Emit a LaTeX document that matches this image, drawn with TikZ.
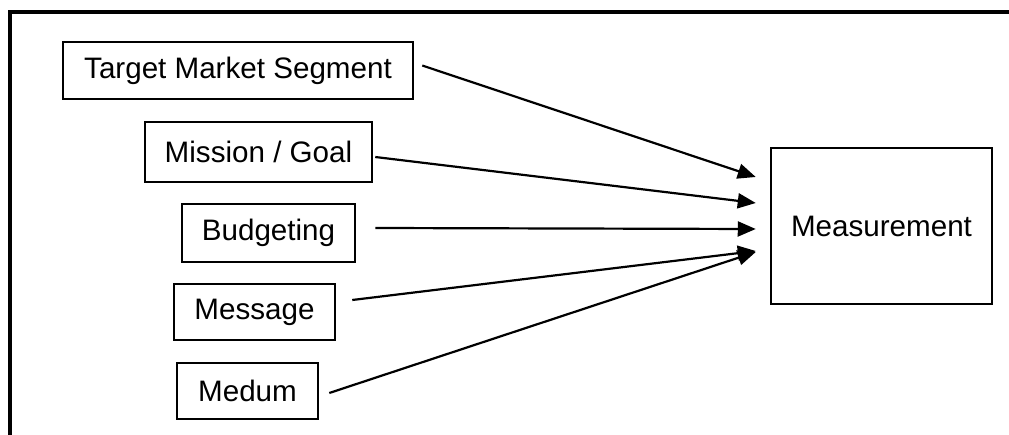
\documentclass[tikz,border=0pt]{standalone}
\usepackage{fontspec}
\setmainfont{Liberation Sans}
\usetikzlibrary{arrows.meta}
\begin{document}
\begin{tikzpicture}[x=1pt,y=-1pt,
  box/.style={draw,line width=2.5pt,inner sep=0pt,font=\fontsize{29.6}{34}\selectfont},
  arr/.style={line width=2.2pt,-{Triangle[length=18pt,width=15pt]}}]
\useasboundingbox (0,0) rectangle (1009,435);
% outer frame (only top and left visible)
\draw[line width=4pt] (10,440) -- (10,12) -- (1015,12);
% nodes
\node[box,minimum width=350pt,minimum height=57pt] (tms) at (238,70.5) {Target Market Segment};
\node[box,minimum width=227pt,minimum height=60pt] (mis) at (258.5,152) {Mission / Goal};
\node[box,minimum width=173pt,minimum height=58pt] (bud) at (268.5,233) {Budgeting};
\node[box,minimum width=161pt,minimum height=56pt] (msg) at (254.5,312) {Message};
\node[box,minimum width=141pt,minimum height=56pt] (med) at (247.5,391) {Medum};
\node[box,minimum width=221pt,minimum height=156pt] (mea) at (881.5,226) {Measurement};
% connector ends
\coordinate (s1) at ([shift={(8,-5)}]tms.east);
\coordinate (s2) at ([shift={(2,5)}]mis.east);
\coordinate (s3) at ([shift={(19,-5)}]bud.east);
\coordinate (s4) at ([shift={(16,-12)}]msg.east);
\coordinate (s5) at ([shift={(10,2)}]med.east);
\coordinate (e1) at ([shift={(-14,-49)}]mea.west);
\coordinate (e2) at ([shift={(-14,-23)}]mea.west);
\coordinate (e3) at ([shift={(-14,3)}]mea.west);
\coordinate (e4) at ([shift={(-14,25)}]mea.west);
\coordinate (e5) at ([shift={(-14,26)}]mea.west);
\draw[arr] (s1) -- (e1);
\draw[arr] (s2) -- (e2);
\draw[arr] (s3) -- (e3);
\draw[arr] (s4) -- (e4);
\draw[arr] (s5) -- (e5);
\end{tikzpicture}
\end{document}
